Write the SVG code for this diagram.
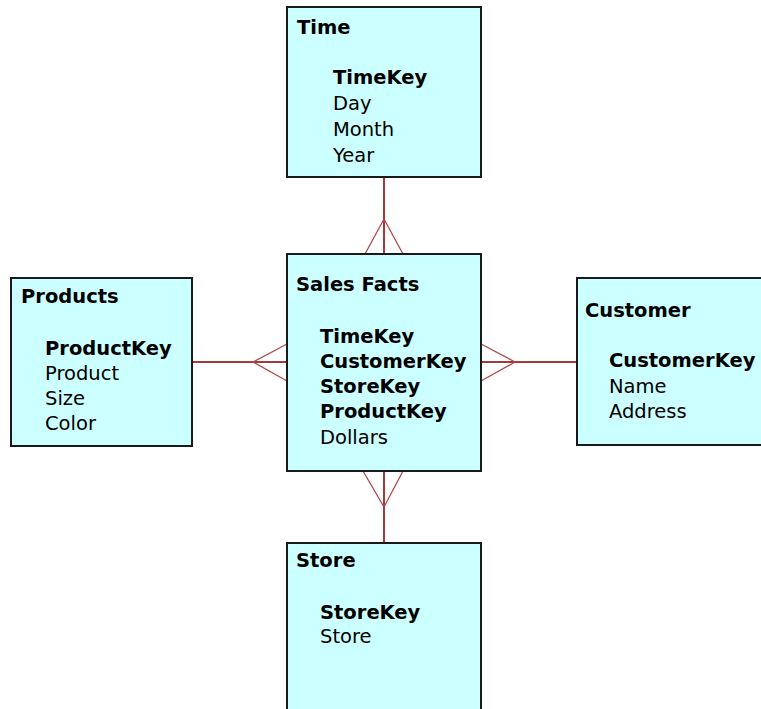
<svg xmlns="http://www.w3.org/2000/svg" width="761" height="709" viewBox="0 0 761 709">
<style>
.box{fill:#CCFFFF;stroke:#1a1a1a;stroke-width:2}
.t{font-family:"DejaVu Sans",Verdana,sans-serif;font-size:19.5px;fill:#000}
.b{font-weight:bold}
.c{stroke:#A33A3A;stroke-width:2;fill:none}
.f{stroke:#B04848;stroke-width:1.3;fill:none}
</style>
<rect width="761" height="709" fill="#fff"/>
<g id="connectors">
<line class="c" x1="384" y1="177" x2="384" y2="254"/>
<polyline class="f" points="365,254 384,219 403,254"/>
<line class="c" x1="192" y1="362" x2="287" y2="362"/>
<polyline class="f" points="287,344 253,362 287,381"/>
<line class="c" x1="481" y1="362" x2="577" y2="362"/>
<polyline class="f" points="481,344 515,362 481,381"/>
<line class="c" x1="384" y1="471" x2="384" y2="543"/>
<polyline class="f" points="363,471 384,507 403,471"/>
</g>
<g id="time">
<rect class="box" x="287" y="7" width="194" height="170"/>
<text class="t b" x="297" y="34">Time</text>
<text class="t b" x="333" y="84">TimeKey</text>
<text class="t" x="333" y="110">Day</text>
<text class="t" x="333" y="136">Month</text>
<text class="t" x="333" y="162">Year</text>
</g>
<g id="products">
<rect class="box" x="11" y="278" width="181" height="168"/>
<text class="t b" x="21" y="303">Products</text>
<text class="t b" x="45" y="355">ProductKey</text>
<text class="t" x="45" y="380">Product</text>
<text class="t" x="45" y="405">Size</text>
<text class="t" x="45" y="430">Color</text>
</g>
<g id="salesfacts">
<rect class="box" x="287" y="254" width="194" height="217"/>
<text class="t b" x="296" y="291">Sales Facts</text>
<text class="t b" x="320" y="343">TimeKey</text>
<text class="t b" x="320" y="368">CustomerKey</text>
<text class="t b" x="320" y="393">StoreKey</text>
<text class="t b" x="320" y="418">ProductKey</text>
<text class="t" x="320" y="444">Dollars</text>
</g>
<g id="customer">
<rect class="box" x="577" y="278" width="200" height="167"/>
<text class="t b" x="585" y="317">Customer</text>
<text class="t b" x="609" y="367">CustomerKey</text>
<text class="t" x="609" y="393">Name</text>
<text class="t" x="609" y="418">Address</text>
</g>
<g id="store">
<rect class="box" x="287" y="543" width="194" height="180"/>
<text class="t b" x="296" y="567">Store</text>
<text class="t b" x="320" y="619">StoreKey</text>
<text class="t" x="320" y="643">Store</text>
</g>
</svg>
